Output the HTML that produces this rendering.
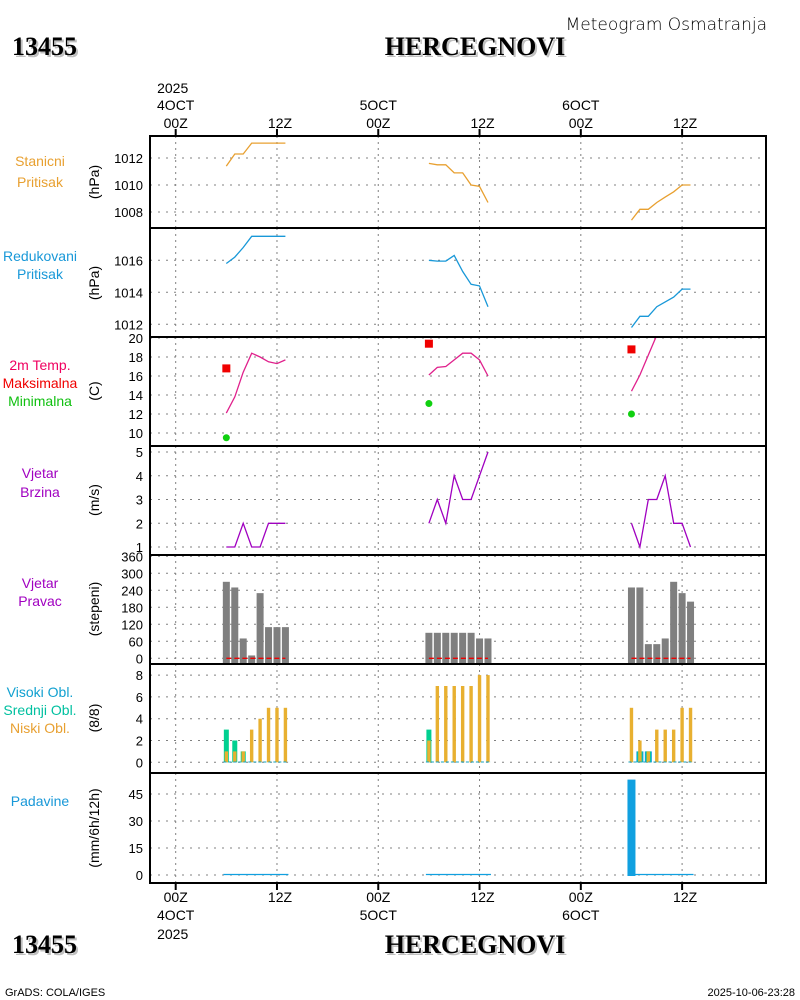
<!DOCTYPE html>
<html><head><meta charset="utf-8"><style>
html,body{margin:0;padding:0;background:#fff;}
svg{display:block;font-family:"Liberation Sans",sans-serif;}
</style></head><body>
<svg id="c" width="800" height="1000" viewBox="0 0 800 1000">
<rect width="800" height="1000" fill="#fff"/>
<g id="g"></g>
</svg>
<script>
// ---- data (hour offsets since 4 OCT 00Z) ----
const hours = [6,7,8,9,10,11,12,13, 30,31,32,33,34,35,36,37, 54,55,56,57,58,59,60,61];
const stationPressure = [1011.4,1012.3,1012.3,1013.1,1013.1,1013.1,1013.1,1013.1, 1011.6,1011.5,1011.5,1010.9,1010.9,1010.0,1009.9,1008.7, 1007.4,1008.2,1008.2,1008.7,1009.1,1009.5,1010.0,1010.0];
const reducedPressure = [1015.8,1016.2,1016.8,1017.5,1017.5,1017.5,1017.5,1017.5, 1016.0,1015.95,1015.95,1016.3,1015.3,1014.5,1014.4,1013.1, 1011.8,1012.5,1012.5,1013.1,1013.4,1013.7,1014.2,1014.2];
const temperature = [12.1,13.8,16.4,18.4,18.0,17.5,17.3,17.7, 16.1,16.9,17.0,17.7,18.4,18.4,17.7,16.0, 14.4,16.1,18.2,20.3,21.0,21.5,21.5,21.0];
const maxHours = [6,30,54];
const maxTemp = [16.8,19.4,18.8];
const minTemp = [9.5,13.1,12.0];
const windSpeed = [1,1,2,1,1,2,2,2, 2,3,2,4,3,3,4,5, 2,1,3,3,4,2,2,1];
const windDir = [270,250,70,10,230,110,110,110, 90,90,90,90,90,90,70,70, 250,250,50,50,70,270,230,200];
const highCloud = [0,0,0,0,0,0,0,0, 0,0,0,0,0,0,0,0, 0,1,1,0,0,0,0,0];
const midCloud = [3,2,1,0,0,0,0,0, 3,0,0,0,0,0,0,0, 0,1,1,0,0,0,0,0];
const lowCloud = [1,1,1,3,4,5,5,5, 2,7,7,7,7,7,8,8, 5,2,1,3,3,3,5,5];
const precip = [0,0,0,0,0,0,0,0, 0,0,0,0,0,0,0,0, 53,0,0,0,0,0,0,0];
const dayGroups = [[0,8],[8,16],[16,24]];
const p1Ticks=[1008,1010,1012], p2Ticks=[1012,1014,1016], p3Ticks=[10,12,14,16,18,20], p4Ticks=[1,2,3,4,5], p5Ticks=[0,60,120,180,240,300,360], p6Ticks=[0,2,4,6,8], p7Ticks=[0,15,30,45];
const gridHours=[0,12,24,36,48,60];
const gridLabels=["00Z","12Z","00Z","12Z","00Z","12Z"];
const dayLabels=["4OCT","5OCT","6OCT"];

const NS="http://www.w3.org/2000/svg";
const G=document.getElementById('g');
function el(tag,attrs,parent){const e=document.createElementNS(NS,tag);for(const k in attrs)e.setAttribute(k,attrs[k]);(parent||G).appendChild(e);return e;}
function txt(s,x,y,attrs,name){const t=el('text',Object.assign({x:x,y:y,'font-size':13,fill:'#000'},attrs));t.textContent=s;


return t;}
const X=h=>175.7+h*8.44;
const L=150,R=766;
const panels=[
 {top:136,bot:228,y:v=>158+(1012-v)*13.5,ticks:p1Ticks},
 {top:228,bot:337,y:v=>260.3+(1016-v)*16,ticks:p2Ticks},
 {top:337,bot:446,y:v=>338+(20-v)*9.5,ticks:p3Ticks},
 {top:446,bot:555,y:v=>547-(v-1)*23.75,ticks:p4Ticks},
 {top:555,bot:664,y:v=>658.3-v*0.2833,ticks:p5Ticks},
 {top:664,bot:773,y:v=>762.3-v*10.9,ticks:p6Ticks},
 {top:773,bot:883,y:v=>875-v*1.8,ticks:p7Ticks}];
const defs=el('defs',{});
panels.forEach((p,i)=>{const cp=el('clipPath',{id:'cp'+i},defs);el('rect',{x:L,y:p.top,width:R-L,height:p.bot-p.top},cp);});
// grids
panels.forEach((p,i)=>{
 const gg=el('g',{'clip-path':'url(#cp'+i+')'});
 
 
 gridHours.forEach(h=>el('line',{x1:X(h),x2:X(h),y1:p.top,y2:p.bot,stroke:'#808080','stroke-width':1,'stroke-dasharray':'2,4'},gg));
 p.ticks.forEach(v=>{el('line',{x1:L,x2:R,y1:p.y(v),y2:p.y(v),stroke:'#808080','stroke-width':1,'stroke-dasharray':'2,6'},gg);
  txt(String(v),143,p.y(v)+5,{'text-anchor':'end'},'y-tick-label');});
});
function line(vals,p,i,color,name){
 const gg=el('g',{'clip-path':'url(#cp'+i+')'});
 dayGroups.forEach(([a,b])=>{let d='';for(let k=a;k<b;k++)d+=(k==a?'M':'L')+X(hours[k]).toFixed(1)+','+p.y(vals[k]).toFixed(1);
  const pa=el('path',{d:d,fill:'none',stroke:color,'stroke-width':1.3},gg);
  
  });
}
line(stationPressure,panels[0],0,'#e8a030','station-pressure-line');
line(reducedPressure,panels[1],1,'#1898d8','reduced-pressure-line');
line(temperature,panels[2],2,'#e0208c','temperature-line');
line(windSpeed,panels[3],3,'#a000c0','wind-speed-line');
maxHours.forEach((h,k)=>{const r=el('rect',{x:X(h)-4,y:panels[2].y(maxTemp[k])-4,width:8,height:8,fill:'#f00000'});
 
 
 const c=el('circle',{cx:X(h),cy:panels[2].y(minTemp[k]),r:3.5,fill:'#10d010'});
 
 });
// wind dir bars
hours.forEach((h,k)=>{const p=panels[4];const y=p.y(windDir[k]);
 const r=el('rect',{x:X(h)-3.5,y:y,width:7,height:p.bot-y,fill:'#7f7f7f'});
 
 });
dayGroups.forEach(([a,b])=>{const l=el('line',{x1:X(hours[a]),x2:X(hours[b-1]),y1:658.3,y2:658.3,stroke:'#f00000','stroke-width':1.3,'stroke-dasharray':'5,3'});
 
 });
// clouds
hours.forEach((h,k)=>{const p=panels[5];const b=p.y(0);
 if(highCloud[k]>0){const r=el('rect',{x:X(h)-3.5,y:p.y(highCloud[k]),width:7,height:b-p.y(highCloud[k]),fill:'#10a0e0'});}
 if(midCloud[k]>0){const r=el('rect',{x:X(h)-2.5,y:p.y(midCloud[k]),width:5,height:b-p.y(midCloud[k]),fill:'#00d090'});}
 if(lowCloud[k]>0){const r=el('rect',{x:X(h)-1.7,y:p.y(lowCloud[k]),width:3.4,height:b-p.y(lowCloud[k]),fill:'#e8b030'});}
});
dayGroups.forEach(([a,b])=>{const l=el('line',{x1:X(hours[a])-3,x2:X(hours[b-1])+3,y1:762,y2:762,stroke:'#10a0c0','stroke-width':1,'stroke-dasharray':'3,2'});
 
 const l2=el('line',{x1:X(hours[a])-3,x2:X(hours[b-1])+3,y1:874.5,y2:874.5,stroke:'#10a0e0','stroke-width':1.2});
 });
hours.forEach((h,k)=>{if(precip[k]>0){const p=panels[6];const y=p.y(precip[k]);
 const r=el('rect',{x:X(h)-4,y:y,width:8,height:p.y(0)-y+1,fill:'#10a0e0'});
 }});
// frame
panels.forEach((p,i)=>{const l=el('line',{x1:L,x2:R,y1:p.bot,y2:p.bot,stroke:'#000','stroke-width':2});});
const fr=el('rect',{x:L,y:136,width:R-L,height:747,fill:'none',stroke:'#000','stroke-width':2});

gridHours.forEach((h,k)=>{el('line',{x1:X(h),x2:X(h),y1:129,y2:136,stroke:'#000','stroke-width':2});el('line',{x1:X(h),x2:X(h),y1:883,y2:890,stroke:'#000','stroke-width':2});
 txt(gridLabels[k],X(h)+(k%2?3:0),128,{'text-anchor':'middle','font-size':14},'top-time-label');
 txt(gridLabels[k],X(h)+(k%2?3:0),902,{'text-anchor':'middle','font-size':14},'bottom-time-label');
 if(k%2==0){txt(dayLabels[k/2],X(h),110,{'text-anchor':'middle','font-size':14},'top-date-label');
  txt(dayLabels[k/2],X(h),920,{'text-anchor':'middle','font-size':14},'bottom-date-label');}});
txt('2025',X(0)-3,93,{'text-anchor':'middle','font-size':14},'top-year-label');
txt('2025',X(0)-3,939,{'text-anchor':'middle','font-size':14},'bottom-year-label');
// left labels
const leftLabels=[["Stanicni",166,'#e8a030'],["Pritisak",187,'#e8a030'],["Redukovani",261,'#1898d8'],["Pritisak",279,'#1898d8'],
["2m Temp.",370,'#f00060'],["Maksimalna",388,'#f00000'],["Minimalna",406,'#10c010'],["Vjetar",478,'#a000c0'],["Brzina",497,'#a000c0'],
["Vjetar",588,'#a000c0'],["Pravac",606,'#a000c0'],["Visoki Obl.",697,'#10a0d0'],["Srednji Obl.",715,'#00c0a0'],["Niski Obl.",733,'#e8a030'],["Padavine",806,'#1898d8']];
leftLabels.forEach(([s,y,c])=>txt(s,40,y,{'text-anchor':'middle',fill:c,'font-size':14},'panel-label'));
const units=[["(hPa)",182],["(hPa)",283],["(C)",391],["(m/s)",500],["(stepeni)",609],["(8/8)",718],["(mm/6h/12h)",828]];
units.forEach(([s,y])=>txt(s,99,y,{'text-anchor':'middle','font-size':14,transform:'rotate(-90 99 '+y+')'},'y-axis-unit'));
// titles
function title(s,x,y,anchor,name){txt(s,x+2,y+2,{'text-anchor':anchor,'font-size':26,'font-weight':'bold','font-family':'Liberation Serif, serif',fill:'#c0c0c0'},name+'-shadow');
 txt(s,x,y,{'text-anchor':anchor,'font-size':26,'font-weight':'bold','font-family':'Liberation Serif, serif',fill:'#000'},name);}
title('13455',12,55,'start','station-id');title('HERCEGNOVI',475,55,'middle','station-name');
title('13455',12,953,'start','station-id-bottom');title('HERCEGNOVI',475,953,'middle','station-name-bottom');
txt('Meteogram Osmatranja',767,30,{'text-anchor':'end','font-size':17,'font-family':'DejaVu Sans, sans-serif','font-weight':'300'},'chart-title');
txt('GrADS: COLA/IGES',5,996,{'font-size':11},'footer-credit');
txt('2025-10-06-23:28',795,996,{'text-anchor':'end','font-size':11},'footer-timestamp');
</script>
</body></html>
